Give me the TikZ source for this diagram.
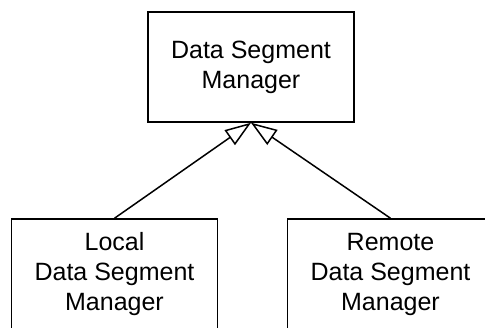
\documentclass[tikz,border=0pt]{standalone}
\usepackage{fontspec}
\setmainfont{Liberation Sans}
\usetikzlibrary{arrows.meta}
\begin{document}
\begin{tikzpicture}[x=1pt,y=-1pt,
  box/.style={draw, line width=1.5pt, minimum width=206pt, minimum height=110pt,
    align=center, inner sep=0pt, font=\fontsize{25}{30}\selectfont},
  inherit/.style={draw, line width=1.5pt,
    -{Triangle[open, length=26pt, width=18pt]}}]
\useasboundingbox (0,0) rectangle (485,327);
% superclass
\node[box] (dsm) at (251,67) {Data Segment\\Manager};
% subclasses
\node[box] (local) at (114.5,274) {Local\\Data Segment\\Manager};
\node[box] (remote) at (390.5,274) {Remote\\Data Segment\\Manager};
% generalisation arrows
\draw[inherit] (local.north) -- (dsm.south);
\draw[inherit] (remote.north) -- (dsm.south);
\end{tikzpicture}
\end{document}
